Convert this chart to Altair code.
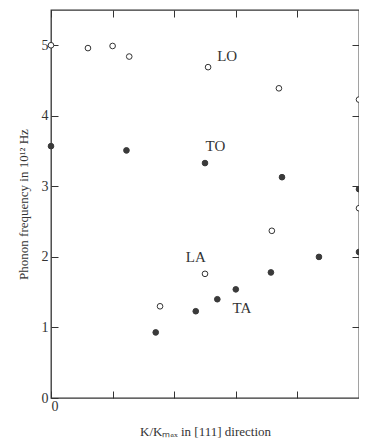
import altair as alt
import pandas as pd

# LO branch (open circles)
lo_x = [0.0, 0.12, 0.20, 0.254, 0.51, 0.74, 1.0]
lo_y = [5.0, 4.96, 4.99, 4.84, 4.69, 4.39, 4.23]
# TO branch (filled)
to_x = [0.0, 0.245, 0.50, 0.75, 1.0]
to_y = [3.57, 3.51, 3.33, 3.13, 2.96]
# LA branch (open)
la_x = [0.354, 0.50, 0.717, 1.0]
la_y = [1.30, 1.76, 2.37, 2.69]
# TA branch (filled)
ta_x = [0.34, 0.47, 0.54, 0.60, 0.714, 0.87, 1.0]
ta_y = [0.93, 1.23, 1.40, 1.54, 1.78, 2.00, 2.07]

label_text = ["LO", "TO", "LA", "TA"]
label_x = [0.572, 0.534, 0.47, 0.62]
label_y = [4.85, 3.57, 2.0, 1.28]

x_ticks = [0.0, 0.2, 0.4, 0.6, 0.8, 1.0]
y_ticks = [0, 1, 2, 3, 4, 5]

open_df = pd.DataFrame({"x": lo_x + la_x, "y": lo_y + la_y})
filled_df = pd.DataFrame({"x": to_x + ta_x, "y": to_y + ta_y})
lab_df = pd.DataFrame({"t": label_text, "x": label_x, "y": label_y})

FONT = "Liberation Serif"
INK = "#333333"

xs = alt.Scale(domain=[0, 1], nice=False)
ys = alt.Scale(domain=[0, 5.5], nice=False)

open_pts = alt.Chart(open_df).mark_point(
    shape="circle", size=32, filled=True, fill="white", stroke=INK, strokeWidth=1, opacity=1
).encode(
    x=alt.X("x:Q", scale=xs, axis=alt.Axis(
        orient="bottom", values=x_ticks, labelExpr="datum.value == 0 ? '0' : ''",
        domain=False, grid=False, tickSize=7, offset=-7, tickColor=INK, tickWidth=1,
        labelPadding=1, labelFont=FONT, labelFontSize=14, labelColor=INK,
        title="K/Kₘₐₓ in [111] direction", titleFont=FONT, titleFontSize=13,
        titleFontWeight="normal", titleColor=INK, titlePadding=12)),
    y=alt.Y("y:Q", scale=ys, axis=alt.Axis(
        orient="left", values=y_ticks, format="d",
        domain=False, grid=False, tickSize=7, offset=-7, tickColor=INK, tickWidth=1,
        labelPadding=3, labelFont=FONT, labelFontSize=14, labelColor=INK,
        title="Phonon frequency in 10¹² Hz", titleFont=FONT, titleFontSize=13,
        titleFontWeight="normal", titleColor=INK, titlePadding=11)),
)

filled_pts = alt.Chart(filled_df).mark_point(
    shape="circle", size=32, filled=True, fill="#3a3a3a", stroke="#3a3a3a", strokeWidth=1, opacity=1
).encode(
    x=alt.X("x:Q", scale=xs, axis=alt.Axis(
        orient="top", values=x_ticks, labels=False, domain=False, grid=False,
        tickSize=7, offset=-7, tickColor=INK, tickWidth=1, title=None)),
    y=alt.Y("y:Q", scale=ys, axis=alt.Axis(
        orient="right", values=[1, 2, 3, 4, 5], labels=False, domain=False, grid=False,
        tickSize=7, offset=-7, tickColor=INK, tickWidth=1, title=None)),
)

labels = alt.Chart(lab_df).mark_text(
    font=FONT, fontSize=15, color=INK, align="center", baseline="middle"
).encode(
    x=alt.X("x:Q", scale=xs, axis=None),
    y=alt.Y("y:Q", scale=ys, axis=None),
    text="t:N",
)

chart = alt.layer(open_pts, filled_pts, labels).resolve_axis(
    x="independent", y="independent"
).properties(
    width=308, height=388,
    padding={"left": 43, "top": 2, "right": 0, "bottom": 40},
    autosize=alt.AutoSizeParams(type="none"),
    background="white",
).configure_view(
    stroke=INK, strokeWidth=1.3
)

chart.save("out.html", embed_options={"renderer": "svg", "actions": False})
